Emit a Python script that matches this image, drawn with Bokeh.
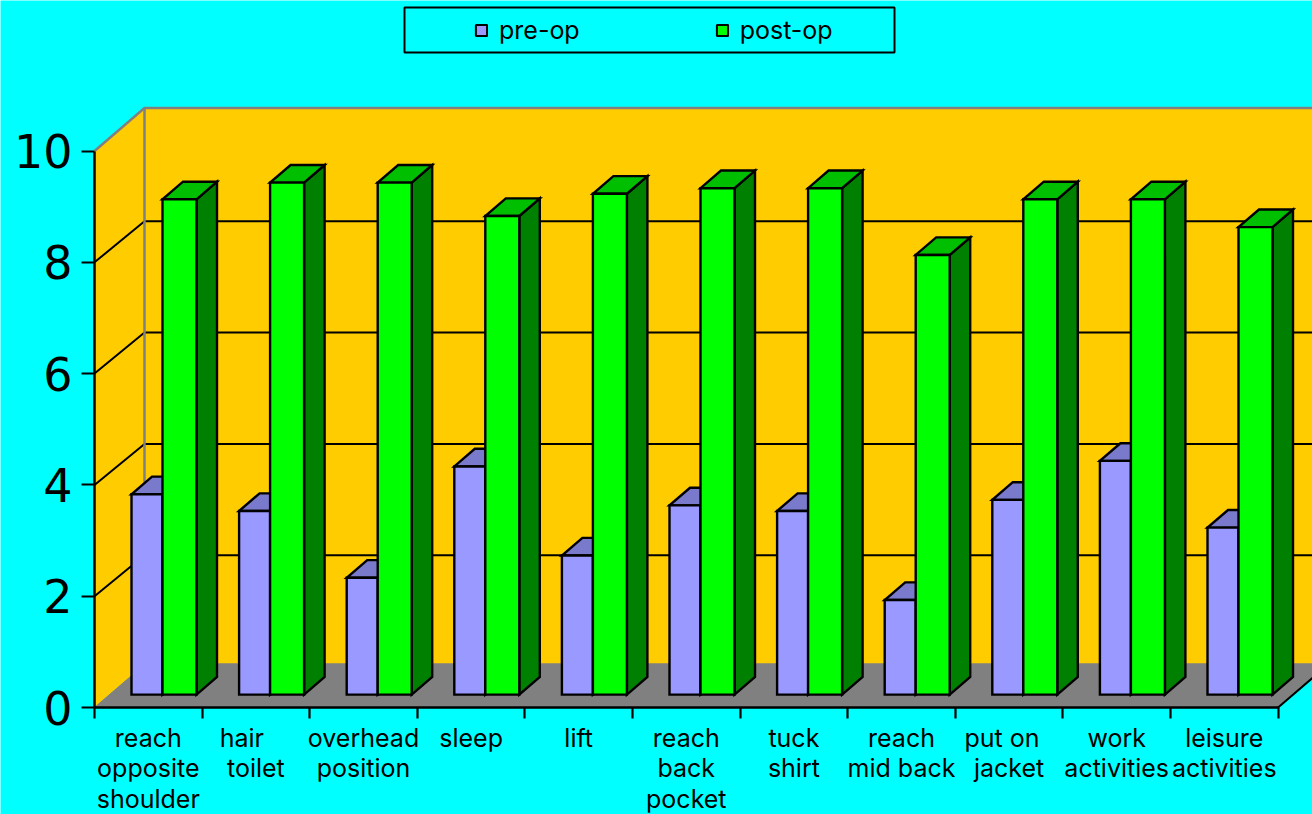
from bokeh.plotting import figure
from bokeh.models import (Range1d, LinearAxis, FixedTicker, Legend, LegendItem, BoxAnnotation)
from bokeh.embed import file_html
from bokeh.resources import INLINE

categories = ["reach\nopposite\nshoulder", "hair    \ntoilet", "overhead\nposition", "sleep", "lift",
              "reach\nback\npocket", "tuck\nshirt", "reach\nmid back", "put on  \njacket",
              "work\nactivities", "leisure\nactivities"]
pre_op = [3.6, 3.3, 2.1, 4.1, 2.5, 3.4, 3.3, 1.7, 3.5, 4.2, 3.0]
post_op = [8.9, 9.2, 9.2, 8.6, 9.0, 9.1, 9.1, 7.9, 8.9, 8.9, 8.4]
y_ticks = [0, 2, 4, 6, 8, 10]
series_names = ["pre-op", "post-op"]

W, H = 1312, 814
X0, XU = 94, 107.6       # pixel of x=0, px per category
Y0, YU = 707, 55.65      # pixel of y=0, px per unit
DX, DY = 50 / XU, 43 / YU  # full depth of the chart box, data units
GY = 41 / YU               # depth rise of the inner gridlines
N = len(categories)
FONT = "Inter"

p = figure(width=W, height=H, output_backend="svg", toolbar_location=None,
           x_range=Range1d(-X0 / XU, (W - X0) / XU),
           y_range=Range1d(-(H - Y0) / YU, Y0 / YU),
           x_axis_type=None, y_axis_type=None,
           background_fill_color="#00FFFF", border_fill_color="#00FFFF",
           min_border=0, min_border_left=0, min_border_right=0, min_border_top=0, min_border_bottom=0,
           outline_line_color=None)
p.xgrid.visible = False
p.ygrid.visible = False
p.styles = {"position": "absolute", "left": "0px", "top": "0px"}

# walls and floor
p.patch([0, DX, DX, 0], [0, DY, 10 + DY, 10], fill_color="#FFCC00", line_color=None)
p.patch([DX, N + DX, N + DX, DX], [DY, DY, 10 + DY, 10 + DY], fill_color="#FFCC00", line_color=None)
p.patch([0, N, N + DX, DX], [0, 0, DY, DY], fill_color="#808080", line_color="#808080", line_width=1)
# gridlines
for v in y_ticks[1:-1]:
    p.line([0, DX, N + DX], [v, v + GY, v + GY], line_color="black", line_width=2)
p.line([DX, N + DX], [DY, DY], line_color="#808080", line_width=2.5)
p.line([0, DX, N + DX], [10, 10 + DY, 10 + DY], line_color="#808080", line_width=2.5)
p.line([DX, DX], [DY, 10 + DY], line_color="#808080", line_width=2.5)
p.line([N, N + DX], [0, DY], line_color="black", line_width=2)

# bars
D0, D1 = 0.30, 0.71
OFF = [(22 / XU, 53 / XU), (53 / XU, 87 / XU)]
FACE = [("#9999FF", "#7A7ACC", "#4C4C80"), ("#00FF00", "#00BF00", "#008000")]
kw = dict(line_color="black", line_width=2.4, line_join="miter")
for i in range(N):
    for s, vals in enumerate((pre_op, post_op)):
        v = vals[i]
        l = i + OFF[s][0] + D0 * DX
        r = i + OFF[s][1] + D0 * DX
        b = D0 * DY
        t = v + b
        ddx = (D1 - D0) * DX
        ddy = (D1 - D0) * DY
        front, top, side = FACE[s]
        p.patch([r, r + ddx, r + ddx, r], [b, b + ddy, t + ddy, t], fill_color=side, **kw)
        p.patch([l, r, r + ddx, l + ddx], [t, t, t + ddy, t + ddy], fill_color=top, **kw)
        p.patch([l, r, r, l], [b, b, t, t], fill_color=front, **kw)

# axes
yax = LinearAxis(fixed_location=0, ticker=FixedTicker(ticks=y_ticks), bounds=(0, 10))
yax.axis_line_color = "black"; yax.axis_line_width = 2.5
yax.major_tick_in = 0; yax.major_tick_out = 13; yax.major_tick_line_width = 2.2; yax.major_tick_line_color = "black"
yax.minor_tick_line_color = None
yax.major_label_text_font = "DejaVu Sans"; yax.major_label_text_font_size = "46px"
yax.major_label_text_color = "black"; yax.major_label_standoff = 9
p.add_layout(yax, "left")

xax = LinearAxis(fixed_location=0, bounds=(0, N),
                 ticker=FixedTicker(ticks=[i + 0.5 for i in range(N)], minor_ticks=list(range(N + 1))))
xax.axis_line_color = "black"; xax.axis_line_width = 2.5
xax.major_tick_line_color = None; xax.major_tick_in = 0; xax.major_tick_out = 0
xax.minor_tick_in = 0; xax.minor_tick_out = 11; xax.minor_tick_line_width = 2.2; xax.minor_tick_line_color = "black"
xax.major_label_overrides = {i + 0.5: c for i, c in enumerate(categories)}
xax.major_label_text_font = FONT; xax.major_label_text_font_size = "25px"
xax.major_label_text_color = "black"; xax.major_label_text_line_height = 1.03
xax.major_label_standoff = 4; xax.major_label_orientation = "horizontal"
p.add_layout(xax, "below")

# legend
p.add_layout(BoxAnnotation(left=404, right=894, top=7, bottom=52, left_units="canvas", right_units="canvas",
                           top_units="canvas", bottom_units="canvas", fill_color="#00FFFF", fill_alpha=1,
                           line_color="black", line_alpha=1, line_width=2))
sw = [p.quad(left=[-5], right=[-4], bottom=[-5], top=[-4], fill_color=FACE[s][0], line_color="black", line_width=2)
      for s in (0, 1)]
leg = Legend(items=[LegendItem(label=series_names[s], renderers=[sw[s]]) for s in (0, 1)],
             orientation="horizontal", location=(474, H - 45), padding=0, margin=0,
             border_line_color=None, background_fill_alpha=0,
             spacing=135, glyph_width=14, glyph_height=14, label_standoff=11,
             label_text_font=FONT, label_text_font_size="25px", label_width=80, label_text_color="black")
p.add_layout(leg, "center")

open("out.html", "w").write(file_html(p, INLINE))
